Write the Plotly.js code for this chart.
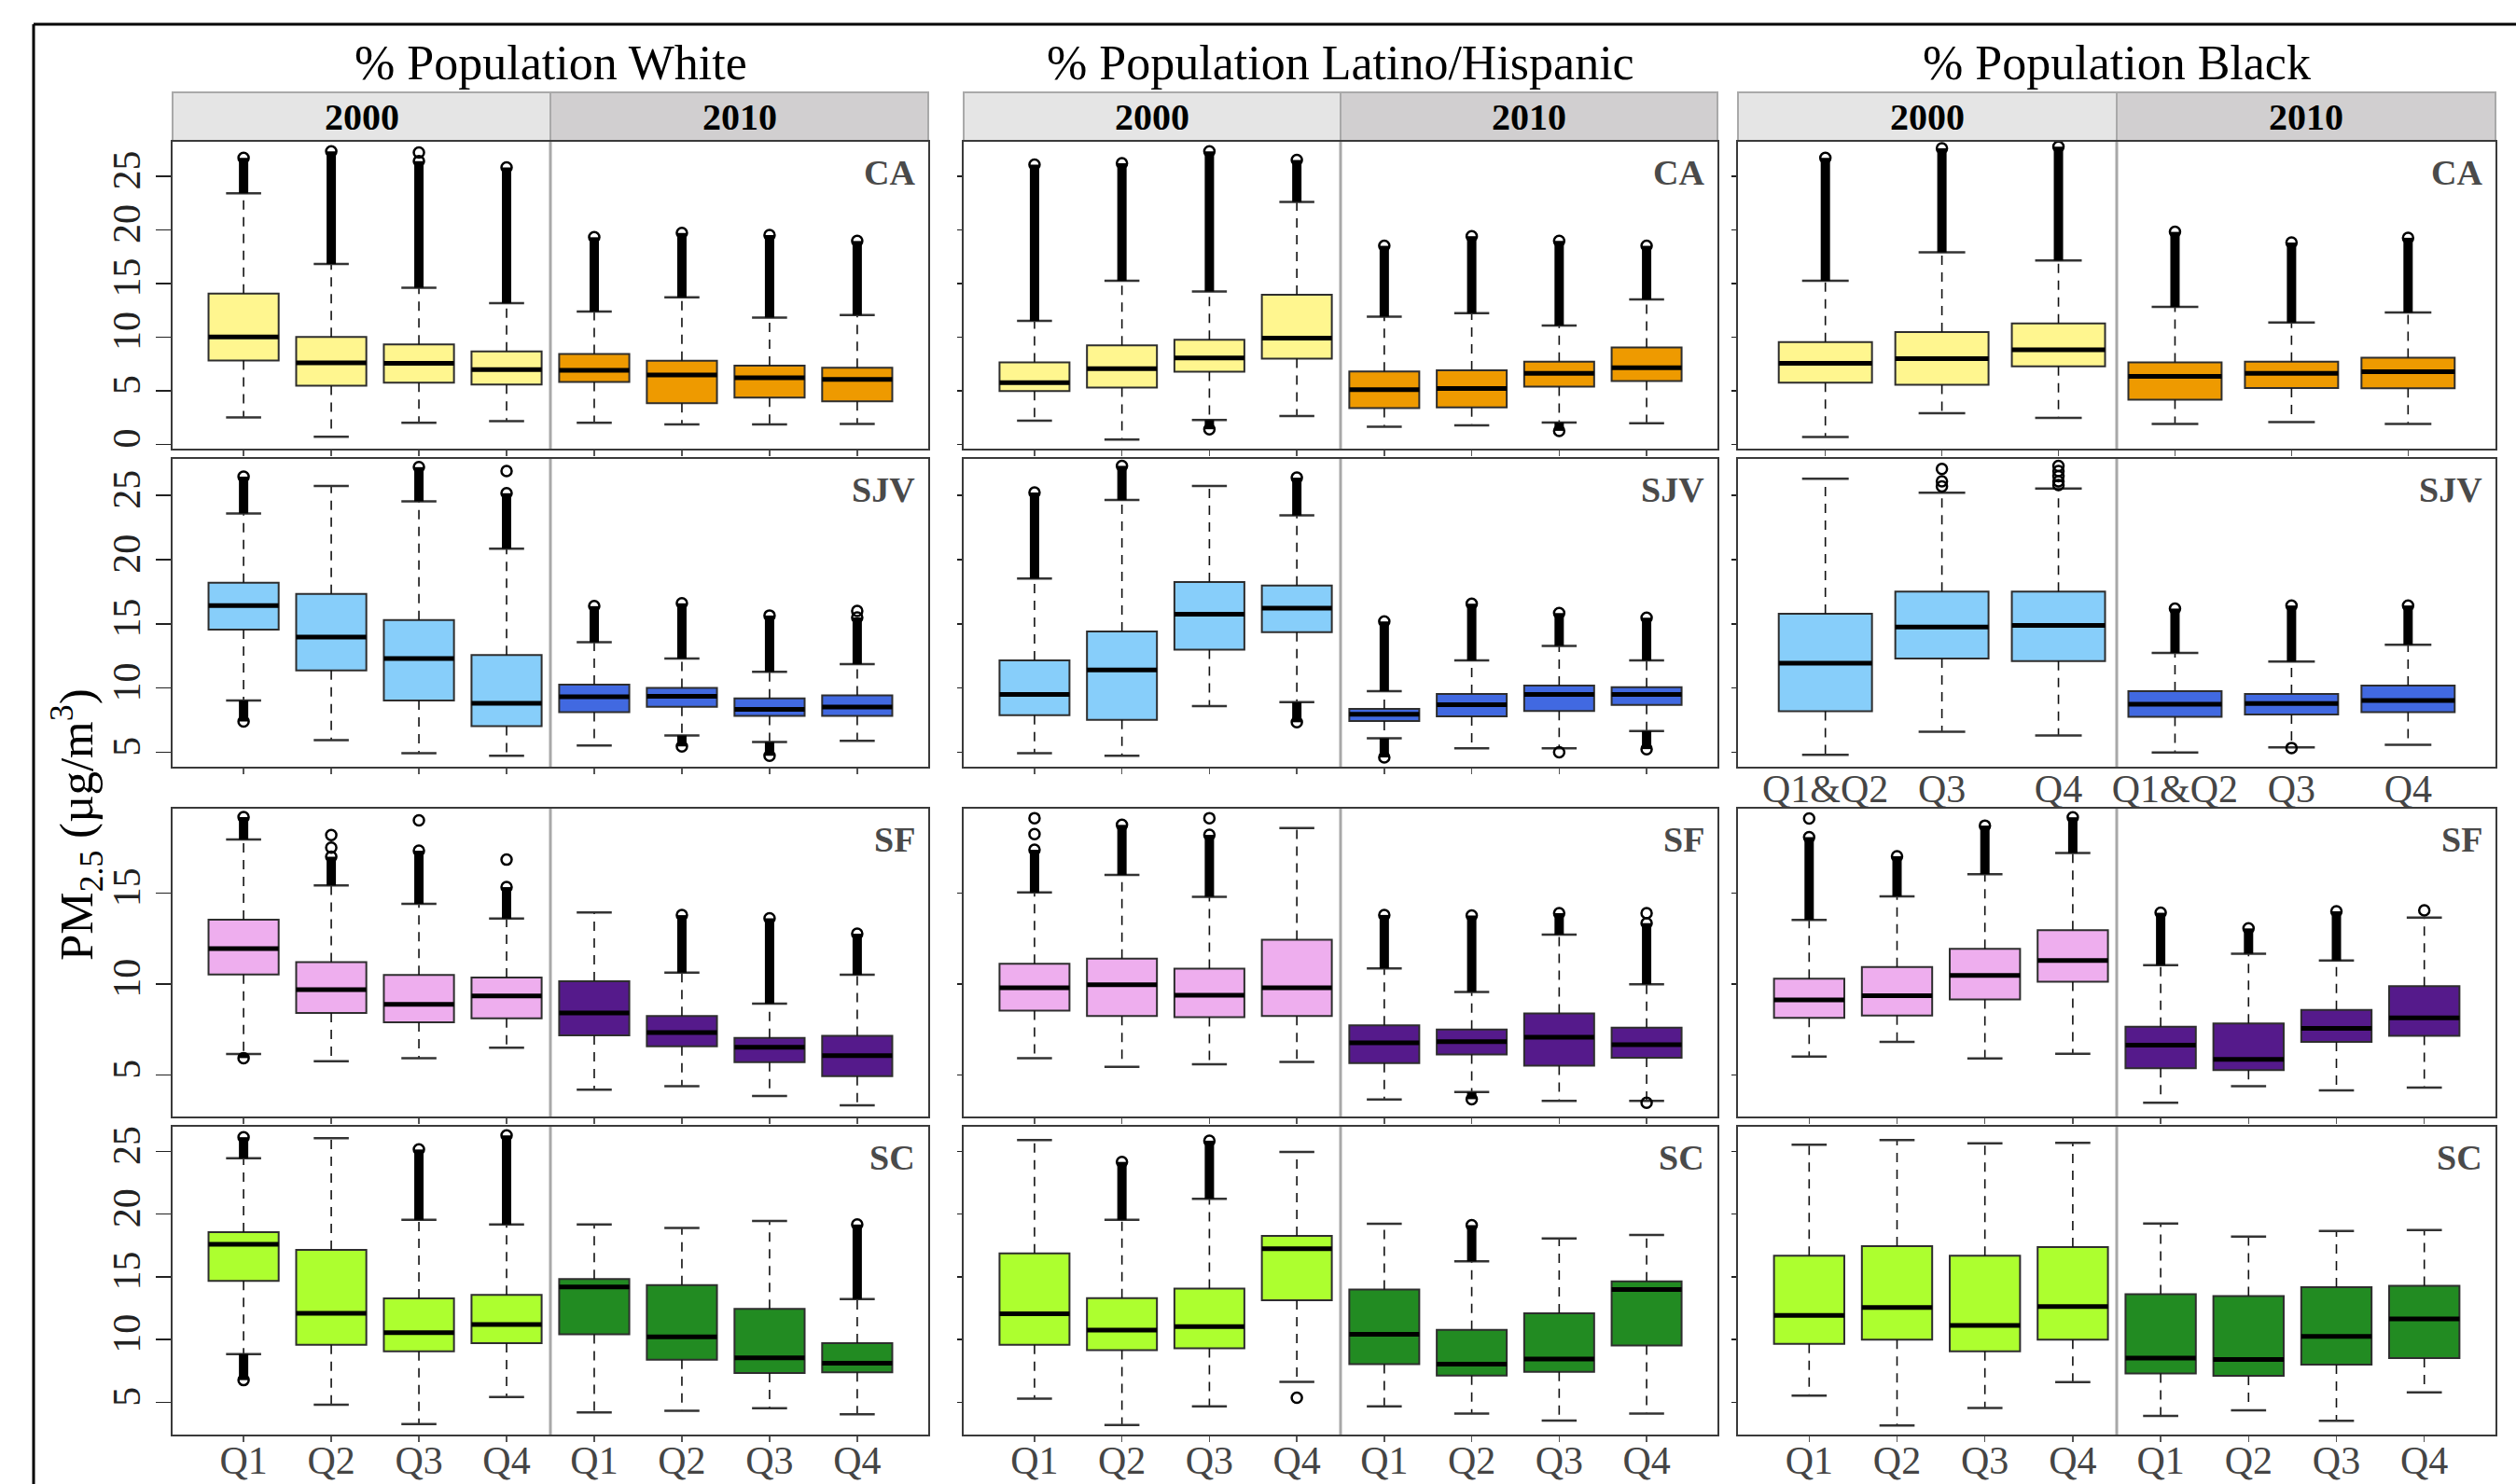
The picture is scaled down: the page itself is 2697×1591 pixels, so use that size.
<!DOCTYPE html>
<html><head><meta charset="utf-8">
<script src="https://cdn.plot.ly/plotly-3.0.1.min.js"></script>
<style>html,body{margin:0;padding:0;background:#fff}</style>
</head><body><div id="chart" style="width:2697px;height:1591px"></div>
<script>
// ---------------- DATA ----------------
const groups = ["% Population White", "% Population Latino/Hispanic", "% Population Black"];
const regions = ["CA", "SJV", "SF", "SC"];
const years = ["2000", "2010"];
const quartLabels = ["Q1", "Q2", "Q3", "Q4", "Q1", "Q2", "Q3", "Q4"];
const blackLabels = ["Q1&Q2", "Q3", "Q4", "Q1&Q2", "Q3", "Q4"];

// each box: [lower whisker, Q1, median, Q3, upper whisker, top of upper outliers, bottom of lower outliers]
const whiteCA = [
  [2.5, 7.8, 10.0, 14.05, 23.4, 26.7, null],
  [0.7, 5.45, 7.6, 10.0, 16.8, 27.3, null],
  [2.0, 5.75, 7.55, 9.3, 14.6, 26.4, null],
  [2.15, 5.57, 6.97, 8.65, 13.15, 25.8, null],
  [2.0, 5.8, 6.9, 8.42, 12.37, 19.3, null],
  [1.85, 3.83, 6.47, 7.78, 13.7, 19.7, null],
  [1.85, 4.35, 6.2, 7.34, 11.8, 19.5, null],
  [1.9, 4.0, 6.04, 7.14, 12.05, 18.95, null]
];
const latinoCA = [
  [2.2, 4.96, 5.75, 7.63, 11.5, 26.07, null],
  [0.44, 5.28, 7.05, 9.23, 15.24, 26.2, null],
  [2.26, 6.76, 8.04, 9.75, 14.25, 27.3, 1.4],
  [2.64, 7.98, 9.9, 13.93, 22.6, 26.5, null],
  [1.63, 3.37, 5.08, 6.79, 11.9, 18.5, null],
  [1.77, 3.43, 5.2, 6.9, 12.22, 19.4, null],
  [2.03, 5.37, 6.62, 7.69, 11.06, 18.95, 1.25],
  [1.97, 5.89, 7.14, 9.03, 13.5, 18.5, null]
];
const blackCA = [
  [0.67, 5.75, 7.55, 9.52, 15.24, 26.7, null],
  [2.9, 5.54, 7.98, 10.45, 17.9, 27.6, null],
  [2.47, 7.26, 8.8, 11.26, 17.13, 27.75, null],
  [1.89, 4.15, 6.33, 7.63, 12.8, 19.8, null],
  [2.06, 5.25, 6.62, 7.69, 11.35, 18.8, null],
  [1.89, 5.22, 6.76, 8.07, 12.28, 19.25, null]
];
const whiteSJV = [
  [9.03, 14.56, 16.43, 18.2, 23.6, 26.46, 7.4],
  [5.95, 11.38, 13.98, 17.33, 25.73, null, null],
  [4.93, 9.03, 12.3, 15.29, 24.54, 27.2, null],
  [4.73, 7.04, 8.81, 12.57, 20.85, 25.17, null],
  [5.53, 8.13, 9.32, 10.27, 13.57, 16.38, null],
  [6.31, 8.54, 9.37, 10.02, 12.3, 16.6, 5.46],
  [5.8, 7.84, 8.35, 9.2, 11.26, 15.65, 4.73],
  [5.9, 7.84, 8.52, 9.44, 11.87, 15.5, null]
];
const latinoSJV = [
  [4.94, 7.9, 9.5, 12.15, 18.52, 25.23, null],
  [4.73, 7.52, 11.42, 14.41, 24.64, 27.3, null],
  [8.6, 13.0, 15.76, 18.26, 25.73, null, null],
  [8.9, 14.36, 16.23, 17.98, 23.44, 26.38, 7.34],
  [6.09, 7.44, 7.96, 8.38, 9.76, 15.19, 4.6],
  [5.31, 7.8, 8.71, 9.55, 12.15, 16.57, null],
  [5.31, 8.22, 9.5, 10.2, 13.29, 15.84, null],
  [6.66, 8.69, 9.5, 10.07, 12.15, 15.48, 5.25]
];
const blackSJV = [
  [4.8, 8.2, 11.94, 15.78, 26.29, null, null],
  [6.6, 12.3, 14.76, 17.52, 25.2, null, null],
  [6.31, 12.11, 14.88, 17.52, 25.53, null, null],
  [4.98, 7.77, 8.74, 9.76, 12.74, 16.19, null],
  [5.39, 7.94, 8.79, 9.54, 12.06, 16.43, null],
  [5.58, 8.13, 9.03, 10.19, 13.37, 16.43, null]
];
const whiteSF = [
  [6.15, 10.53, 11.95, 13.54, 17.95, 19.18, 5.93],
  [5.76, 8.41, 9.69, 11.21, 15.42, 17.0, null],
  [5.93, 7.9, 8.89, 10.5, 14.41, 17.33, null],
  [6.5, 8.12, 9.35, 10.36, 13.6, 15.33, null],
  [4.19, 7.18, 8.41, 10.15, 13.93, null, null],
  [4.39, 6.58, 7.33, 8.24, 10.63, 13.79, null],
  [3.85, 5.71, 6.53, 7.04, 8.92, 13.62, null],
  [3.33, 4.94, 6.07, 7.16, 10.51, 12.77, null]
];
const latinoSF = [
  [5.93, 8.54, 9.8, 11.12, 15.04, 17.38, null],
  [5.45, 8.25, 9.96, 11.4, 16.0, 18.75, null],
  [5.59, 8.18, 9.38, 10.85, 14.8, 18.2, null],
  [5.72, 8.25, 9.8, 12.43, 18.57, null, null],
  [3.65, 5.66, 6.77, 7.73, 10.86, 13.8, null],
  [4.06, 6.13, 6.84, 7.5, 9.57, 13.77, 3.67],
  [3.58, 5.51, 7.08, 8.39, 12.72, 13.9, null],
  [3.58, 5.95, 6.67, 7.6, 9.99, 13.35, null]
];
const blackSF = [
  [6.02, 8.14, 9.13, 10.29, 13.53, 18.07, null],
  [6.82, 8.27, 9.36, 10.94, 14.82, 17.03, null],
  [5.91, 9.15, 10.48, 11.93, 16.04, 18.71, null],
  [6.17, 10.13, 11.3, 12.96, 17.2, 19.17, null],
  [3.48, 5.37, 6.64, 7.65, 11.04, 13.92, null],
  [4.39, 5.27, 5.86, 7.83, 11.67, 13.06, null],
  [4.15, 6.82, 7.57, 8.58, 11.3, 14.0, null],
  [4.31, 7.16, 8.14, 9.88, 13.66, null, null]
];
const whiteSC = [
  [8.85, 14.68, 17.6, 18.56, 24.45, 26.13, 6.77],
  [4.81, 9.58, 12.1, 17.15, 26.05, null, null],
  [3.27, 9.07, 10.56, 13.28, 19.54, 25.15, null],
  [5.43, 9.72, 11.21, 13.56, 19.17, 26.27, null],
  [4.19, 10.42, 14.2, 14.82, 19.17, null, null],
  [4.33, 8.4, 10.22, 14.35, 18.89, null, null],
  [4.53, 7.34, 8.54, 12.44, 19.45, null, null],
  [4.05, 7.39, 8.12, 9.72, 13.23, 19.17, null]
];
const latinoSC = [
  [5.29, 9.58, 12.05, 16.87, 25.9, null, null],
  [3.19, 9.16, 10.76, 13.31, 19.54, 24.16, null],
  [4.67, 9.3, 11.04, 14.07, 21.22, 25.85, null],
  [6.63, 13.14, 17.24, 18.27, 24.95, null, null],
  [4.67, 8.04, 10.42, 13.98, 19.23, null, null],
  [4.11, 7.14, 8.04, 10.78, 16.23, 19.12, null],
  [3.55, 7.42, 8.46, 12.1, 18.05, null, null],
  [4.11, 9.52, 13.98, 14.63, 18.33, null, null]
];
const blackSC = [
  [5.53, 9.66, 11.92, 16.69, 25.53, null, null],
  [3.16, 10.0, 12.56, 17.44, 25.9, null, null],
  [4.55, 9.06, 11.13, 16.69, 25.64, null, null],
  [6.62, 10.0, 12.63, 17.37, 25.68, null, null],
  [3.91, 7.29, 8.53, 13.61, 19.25, null, null],
  [4.36, 7.11, 8.42, 13.46, 18.2, null, null],
  [3.53, 8.0, 10.26, 14.17, 18.65, null, null],
  [5.79, 8.53, 11.65, 14.29, 18.72, null, null]
];

// isolated outlier circles: [box index, value]
const whiteCAextra = [[2, 27.2]];
const whiteSJVextra = [[3, 26.9], [7, 16.0]];
const latinoSJVextra = [[6, 5.0]];
const blackSJVextra = [[1, 27.06], [1, 26.1], [1, 25.7], [2, 27.3], [2, 26.9], [2, 26.5], [2, 26.1], [2, 25.8], [4, 5.34]];
const whiteSFextra = [[1, 18.19], [1, 17.5], [2, 19.0], [3, 16.84]];
const latinoSFextra = [[0, 19.12], [0, 18.24], [2, 19.12], [7, 13.9], [7, 3.48]];
const blackSFextra = [[0, 19.1], [7, 14.05]];
const latinoSCextra = [[3, 5.37]];

const yTicks = [[0, 5, 10, 15, 20, 25], [5, 10, 15, 20, 25], [5, 10, 15], [5, 10, 15, 20, 25]];
const yRanges = [[-0.41, 28.2], [3.88, 27.84], [2.72, 19.64], [2.43, 26.96]];
const rowColors = [["#FFF68F", "#EE9A00"], ["#87CEFA", "#4169E1"], ["#EEAEEE", "#551A8B"], ["#ADFF2F", "#228B22"]];

const panelData = [
  [whiteCA, latinoCA, blackCA],
  [whiteSJV, latinoSJV, blackSJV],
  [whiteSF, latinoSF, blackSF],
  [whiteSC, latinoSC, blackSC]
];
const panelExtra = [
  [whiteCAextra, [], []],
  [whiteSJVextra, latinoSJVextra, blackSJVextra],
  [whiteSFextra, latinoSFextra, blackSFextra],
  [[], latinoSCextra, []]
];

// ---------------- LAYOUT GEOMETRY (pixels) ----------------
const W = 2697, H = 1591;
const colX = [[185, 995], [1033, 1841], [1863, 2675]];
const rowY = [[152, 481], [492, 822], [867, 1197], [1208, 1538]];
const px = x => x / W;
const py = y => 1 - y / H;
const FONT = "Liberation Serif, Times New Roman, serif";

const traces = [];
const layout = {
  width: W, height: H,
  margin: {l: 0, r: 0, t: 0, b: 0},
  paper_bgcolor: "#fff", plot_bgcolor: "#fff",
  showlegend: false,
  shapes: [], annotations: []
};

for (let r = 0; r < 4; r++) {
  for (let g = 0; g < 3; g++) {
    const idx = r * 3 + g + 1;
    const xa = "x" + (idx === 1 ? "" : idx), ya = "y" + (idx === 1 ? "" : idx);
    const xk = "xaxis" + (idx === 1 ? "" : idx), yk = "yaxis" + (idx === 1 ? "" : idx);
    const data = panelData[r][g];
    const n = data.length, half = n / 2;
    const labels = n === 6 ? blackLabels : quartLabels;

    // boxes
    data.forEach((d, i) => {
      traces.push({
        type: "box", x: [i + 1], q1: [d[1]], median: [d[2]], q3: [d[3]],
        lowerfence: [d[1]], upperfence: [d[3]],
        width: 0.8, whiskerwidth: 0, boxpoints: false,
        fillcolor: rowColors[r][i < half ? 0 : 1],
        line: {color: "#2e2e2e", width: 2},
        hoverinfo: "skip", xaxis: xa, yaxis: ya
      });
    });
    const wx = [], wy = [], cx = [], cy = [], mx = [], my = [], ox = [], oy = [], ex = [], ey = [];
    data.forEach((d, i) => {
      const p = i + 1;
      wx.push(p, p, null, p, p, null); wy.push(d[3], d[4], null, d[1], d[0], null);
      cx.push(p - 0.2, p + 0.2, null, p - 0.2, p + 0.2, null); cy.push(d[4], d[4], null, d[0], d[0], null);
      mx.push(p - 0.4, p + 0.4, null); my.push(d[2], d[2], null);
      if (d[5] !== null) { ox.push(p, p, null); oy.push(d[4], d[5], null); ex.push(p); ey.push(d[5]); }
      if (d[6] !== null) { ox.push(p, p, null); oy.push(d[0], d[6], null); ex.push(p); ey.push(d[6]); }
    });
    panelExtra[r][g].forEach(e => { ex.push(e[0] + 1); ey.push(e[1]); });

    traces.push({type: "scatter", mode: "lines", x: wx, y: wy, line: {color: "#111", width: 1.6, dash: "10px,8px"}, hoverinfo: "skip", xaxis: xa, yaxis: ya});
    traces.push({type: "scatter", mode: "lines", x: cx, y: cy, line: {color: "#333", width: 2.5}, hoverinfo: "skip", xaxis: xa, yaxis: ya});
    traces.push({type: "scatter", mode: "lines", x: ox, y: oy, line: {color: "#000", width: 10}, hoverinfo: "skip", xaxis: xa, yaxis: ya});
    traces.push({type: "scatter", mode: "markers", x: ex, y: ey, marker: {symbol: "circle-open", size: 11, color: "#000", line: {width: 2.5}}, hoverinfo: "skip", xaxis: xa, yaxis: ya});
    traces.push({type: "scatter", mode: "lines", x: mx, y: my, line: {color: "#000", width: 5}, hoverinfo: "skip", xaxis: xa, yaxis: ya});

    const blackMid = (r === 1 && g === 2);
    const showX = (r === 3) || blackMid;
    layout[xk] = {
      domain: [px(colX[g][0]), px(colX[g][1])],
      range: n === 6 ? [0.25, 6.75] : [0.19, 8.81],
      tickvals: labels.map((_, i) => i + 1), ticktext: labels,
      showticklabels: showX,
      ticks: blackMid ? "" : "outside", ticklen: 6, tickcolor: "#555", tickwidth: 1.5,
      ticklabelstandoff: blackMid ? -14 : -16,
      tickfont: {family: FONT, size: 42, color: "#454545"},
      showline: true, mirror: true, linecolor: "#3a3a3a", linewidth: 2,
      showgrid: false, zeroline: false, anchor: ya, fixedrange: true
    };
    layout[yk] = {
      domain: [py(rowY[r][1]), py(rowY[r][0])],
      range: yRanges[r], tickvals: yTicks[r], ticktext: yTicks[r].map(String),
      showticklabels: g === 0, tickangle: -90,
      ticks: "outside", ticklen: g === 0 ? 16 : 5, tickcolor: "#222", tickwidth: 1.5,
      tickfont: {family: FONT, size: 42, color: "#222"},
      showline: true, mirror: true, linecolor: "#3a3a3a", linewidth: 2,
      showgrid: false, zeroline: false, anchor: xa, fixedrange: true
    };
    // divider between 2000 and 2010
    layout.shapes.push({type: "line", xref: xa, yref: ya + " domain", x0: half + 0.5, x1: half + 0.5, y0: 0, y1: 1, line: {color: "#a8a8a8", width: 3}});
    // region label
    layout.annotations.push({
      text: "<b>" + regions[r] + "</b>", xref: "paper", yref: "paper",
      x: px(colX[g][1] - 12), y: py(rowY[r][0] + 10), xanchor: "right", yanchor: "top",
      showarrow: false, font: {family: FONT, size: 38, color: "#4a4a4a"}
    });
  }
}

// strips and group titles
for (let g = 0; g < 3; g++) {
  const x0 = colX[g][0], x1 = colX[g][1], xm = (x0 + x1) / 2;
  const fills = ["#e5e5e5", "#d1cfd0"];
  [[x0, xm], [xm, x1]].forEach((seg, k) => {
    layout.shapes.push({type: "rect", xref: "paper", yref: "paper", x0: px(seg[0]), x1: px(seg[1]), y0: py(151), y1: py(99),
      fillcolor: fills[k], line: {color: "#a9a9a9", width: 2}, layer: "below"});
    layout.annotations.push({text: "<b>" + years[k] + "</b>", xref: "paper", yref: "paper", x: px((seg[0] + seg[1]) / 2), y: py(125),
      xanchor: "center", yanchor: "middle", showarrow: false, font: {family: FONT, size: 40, color: "#000"}});
  });
  layout.annotations.push({text: groups[g], xref: "paper", yref: "paper", x: px(xm), y: py(67),
    xanchor: "center", yanchor: "middle", showarrow: false, font: {family: FONT, size: 52, color: "#000"}});
}

// y axis title
layout.annotations.push({text: "PM<sub>2.5</sub> (µg/m<sup>3</sup>)", xref: "paper", yref: "paper", x: px(82), y: py(884),
  xanchor: "center", yanchor: "middle", textangle: -90, showarrow: false, font: {family: FONT, size: 51, color: "#000"}});

// outer frame (top and left)
layout.shapes.push({type: "line", xref: "paper", yref: "paper", x0: px(36), x1: 1, y0: py(26), y1: py(26), line: {color: "#000", width: 3}});
layout.shapes.push({type: "line", xref: "paper", yref: "paper", x0: px(36), x1: px(36), y0: py(26), y1: 0, line: {color: "#000", width: 3}});

Plotly.newPlot("chart", traces, layout, {staticPlot: true, displayModeBar: false});
</script>
</body></html>
